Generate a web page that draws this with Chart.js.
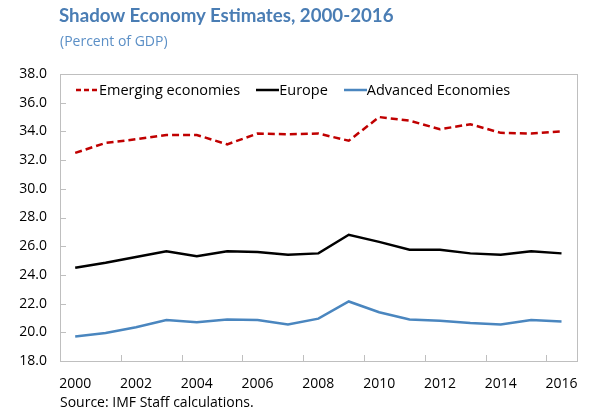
<!DOCTYPE html>
<html>
<head>
<meta charset="utf-8">
<script src="https://cdn.jsdelivr.net/npm/chart.js@4"></script>
<style>
  body { margin: 0; background: #fff; font-family: "Open Sans", sans-serif; }
  #wrap { position: relative; width: 593px; height: 412px; }
  #chart { position: absolute; left: 0; top: 0; }
  .txt { position: absolute; white-space: nowrap; }
  #title { left: 59px; top: 4px; font-family: Lato, sans-serif; font-size: 18.7px; font-weight: bold; color: #4a7db4; }
  #sub { left: 60px; top: 31px; font-size: 14px; color: #5b8fc6; }
  #source { left: 60px; top: 392px; font-size: 14px; color: #000; }
  #legend { position: absolute; left: 76px; top: 80px; font-size: 14.5px; color: #000; display: flex; }
  #legend .item { display: flex; align-items: center; margin-right: 16px; }
</style>
</head>
<body>
<div id="wrap">
  <canvas id="chart" width="593" height="412"></canvas>
  <div class="txt" id="title">Shadow Economy Estimates, 2000-2016</div>
  <div class="txt" id="sub">(Percent of GDP)</div>
  <div id="legend"></div>
  <div class="txt" id="source">Source: IMF Staff calculations.</div>
</div>
<script>
const years = ['2000','2001','2002','2003','2004','2005','2006','2007','2008','2009','2010','2011','2012','2013','2014','2015','2016']
const emerging = [32.5, 33.2, 33.45, 33.75, 33.75, 33.1, 33.85, 33.8, 33.85, 33.35, 35.0, 34.75, 34.15, 34.5, 33.9, 33.85, 34.0]
const europe = [24.5, 24.85, 25.25, 25.65, 25.3, 25.65, 25.6, 25.4, 25.5, 26.8, 26.3, 25.75, 25.75, 25.5, 25.4, 25.65, 25.5]
const advanced = [19.7, 19.95, 20.35, 20.85, 20.7, 20.9, 20.85, 20.55, 20.95, 22.15, 21.4, 20.9, 20.8, 20.65, 20.55, 20.85, 20.75]
const yTicks = [18, 20, 22, 24, 26, 28, 30, 32, 34, 36, 38]

// frame around the plot and small inward tick marks
const framePlugin = {
    id: 'frame',
    afterDraw(chart) {
        const ctx = chart.ctx
        const a = chart.chartArea
        const x = chart.scales.x
        const y = chart.scales.y
        ctx.save()
        ctx.strokeStyle = '#bfbfbf'
        ctx.lineWidth = 1
        ctx.strokeRect(Math.round(a.left) + 0.5, Math.round(a.top) + 0.5, Math.round(a.right - a.left), Math.round(a.bottom - a.top))
        ctx.beginPath()
        yTicks.forEach(v => {
            const py = Math.round(y.getPixelForValue(v)) + 0.5
            ctx.moveTo(a.left, py)
            ctx.lineTo(a.left + 6, py)
        })
        const half = (x.getPixelForValue(1) - x.getPixelForValue(0)) / 2
        for (let i = 1; i < years.length - 1; i += 2) {
            const px = Math.round(x.getPixelForValue(i) + half) + 0.5
            ctx.moveTo(px, a.bottom)
            ctx.lineTo(px, a.bottom - 6)
        }
        ctx.stroke()
        ctx.restore()
    }
}

const chart = new Chart(document.getElementById('chart'), {
    type: 'line',
    data: {
        labels: years,
        datasets: [
            { label: 'Emerging economies', data: emerging, borderColor: '#c00000', borderDash: [7, 4], borderWidth: 2.5 },
            { label: 'Europe', data: europe, borderColor: '#000000', borderWidth: 2.5 },
            { label: 'Advanced Economies', data: advanced, borderColor: '#4a86bf', borderWidth: 2.5 }
        ]
    },
    options: {
        responsive: false,
        animation: false,
        layout: { padding: { left: 0, top: 74, right: 16, bottom: 0 } },
        elements: { point: { radius: 0 }, line: { tension: 0 } },
        plugins: { legend: { display: false }, tooltip: { enabled: false } },
        scales: {
            x: {
                offset: true,
                grid: { display: false, drawTicks: false },
                border: { display: false },
                afterFit: s => { s.height = 51 },
                ticks: {
                    autoSkip: false,
                    maxRotation: 0,
                    padding: 15,
                    color: '#000',
                    font: { family: 'Open Sans', size: 14 },
                    callback: (v, i) => i % 2 == 0 ? years[i] : ''
                }
            },
            y: {
                min: 18,
                max: 38,
                grid: { display: false, drawTicks: false },
                border: { display: false },
                afterFit: s => { s.width = 60 },
                ticks: {
                    stepSize: 2,
                    padding: 13,
                    color: '#000',
                    font: { family: 'Open Sans', size: 14 },
                    callback: v => v.toFixed(1)
                }
            }
        }
    },
    plugins: [framePlugin]
})

// legend inside the plot, built from the datasets
const legend = document.getElementById('legend')
chart.data.datasets.forEach(ds => {
    const dash = ds.borderDash ? 'stroke-dasharray="5 3"' : ''
    const item = document.createElement('div')
    item.className = 'item'
    item.innerHTML = `<svg width="23" height="10"><line x1="0" y1="5" x2="23" y2="5" stroke="${ds.borderColor}" stroke-width="2.5" ${dash}/></svg><span>${ds.label}</span>`
    legend.appendChild(item)
})
</script>
</body>
</html>
